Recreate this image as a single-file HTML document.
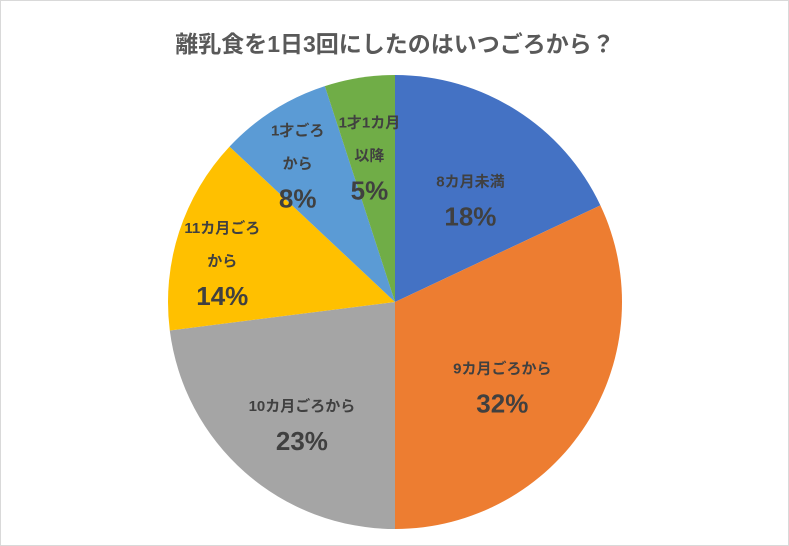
<!DOCTYPE html>
<html><head><meta charset="utf-8"><style>
html,body{margin:0;padding:0;background:#fff;}
svg{display:block;font-family:"Liberation Sans","Noto Sans CJK JP",sans-serif;}
</style></head><body>
<svg id="chart" width="789" height="546" viewBox="0 0 789 546">
<rect x="0.5" y="0.5" width="788" height="545" fill="#fff" stroke="#d9d9d9"/>
<text x="395" y="52" text-anchor="middle" font-size="23" font-weight="bold" fill="#595959">離乳食を1日3回にしたのはいつごろから？</text>
<g id="slices"></g>
<g id="labels"></g>
</svg>
<script>
const categories=[["8カ月未満"],["9カ月ごろから"],["10カ月ごろから"],["11カ月ごろ","から"],["1才ごろ","から"],["1才1カ月","以降"]];
const values=[18,32,23,14,8,5];
const colors=["#4472C4","#ED7D31","#A5A5A5","#FFC000","#5B9BD5","#70AD47"];
const labelR=[0.62,0.56,0.62,0.8,0.8,0.72];
const cx=395,cy=302,r=227;
const ns="http://www.w3.org/2000/svg";
const total=values.reduce((a,b)=>a+b,0);
const sg=document.getElementById('slices'),lg=document.getElementById('labels');
function pt(a,rr){return [cx+rr*Math.sin(a),cy-rr*Math.cos(a)];}
let acc=0;
values.forEach((v,i)=>{
  const a0=acc/total*2*Math.PI;acc+=v;const a1=acc/total*2*Math.PI;
  const p0=pt(a0,r),p1=pt(a1,r);
  const large=(a1-a0)>Math.PI?1:0;
  const p=document.createElementNS(ns,'path');
  p.setAttribute('d',`M${cx},${cy}L${p0[0]},${p0[1]}A${r},${r} 0 ${large} 1 ${p1[0]},${p1[1]}Z`);
  p.setAttribute('fill',colors[i]);
  
  
  sg.appendChild(p);
  const m=(a0+a1)/2;const c=pt(m,r*labelR[i]);
  const lines=categories[i];
  const t=document.createElementNS(ns,'text');
  t.setAttribute('text-anchor','middle');
  t.setAttribute('fill','#404040');
  t.setAttribute('font-weight','bold');
  
  
  const h=lines.length*33+36;let y=c[1]-h/2+38;
  lines.forEach(l=>{const s=document.createElementNS(ns,'tspan');s.setAttribute('x',c[0]);s.setAttribute('y',y);s.setAttribute('font-size','15');s.textContent=l;t.appendChild(s);y+=33;});
  const s=document.createElementNS(ns,'tspan');s.setAttribute('x',c[0]);s.setAttribute('y',y+6);s.setAttribute('font-size','26');s.textContent=v+'%';t.appendChild(s);
  lg.appendChild(t);
});
</script>
</body></html>
